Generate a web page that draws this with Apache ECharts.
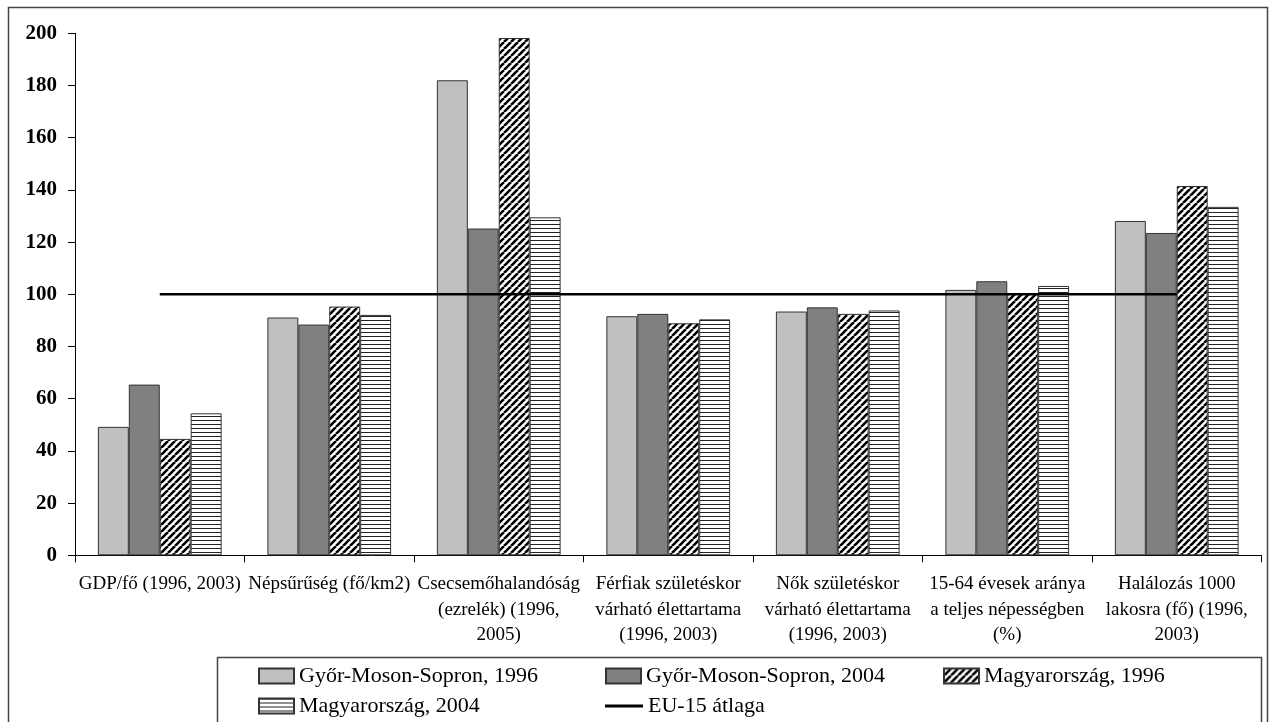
<!DOCTYPE html>
<html>
<head>
<meta charset="utf-8">
<script src="https://cdn.jsdelivr.net/npm/echarts@6/dist/echarts.min.js"></script>
<style>
html,body{margin:0;padding:0;background:#fff;}
#chart{width:1272px;height:722px;}
</style>
</head>
<body>
<div id="chart"></div>
<script>
const categories = [
  'GDP/fő (1996, 2003)',
  'Népsűrűség (fő/km2)',
  'Csecsemőhalandóság\n(ezrelék) (1996,\n2005)',
  'Férfiak születéskor\nvárható élettartama\n(1996, 2003)',
  'Nők születéskor\nvárható élettartama\n(1996, 2003)',
  '15-64 évesek aránya\na teljes népességben\n(%)',
  'Halálozás 1000\nlakosra (fő) (1996,\n2003)'
];
const seriesNames = ['Győr-Moson-Sopron, 1996', 'Győr-Moson-Sopron, 2004', 'Magyarország, 1996', 'Magyarország, 2004', 'EU-15 átlaga'];
const gyms1996 = [49.2, 91.1, 182.0, 91.6, 93.4, 101.7, 128.1];
const gyms2004 = [65.4, 88.4, 125.2, 92.5, 95.0, 105.0, 123.5];
const hu1996 = [44.6, 95.3, 198.2, 88.9, 92.5, 100.2, 141.5];
const hu2004 = [54.4, 92.1, 129.5, 90.4, 93.8, 103.2, 133.5];
const eu15 = [100, 100, 100, 100, 100, 100, 100];
const yTicks = { min: 0, max: 200, interval: 20 };

function diagPattern() {
  const s = 7;
  const c = document.createElement('canvas');
  c.width = s; c.height = s;
  const g = c.getContext('2d');
  g.fillStyle = '#fff'; g.fillRect(0, 0, s, s);
  g.strokeStyle = '#000'; g.lineWidth = 2.6;
  for (const x0 of [-s, 0, s]) {
    g.beginPath(); g.moveTo(x0, s); g.lineTo(x0 + s, 0); g.stroke();
  }
  return { image: c, repeat: 'repeat' };
}
function horizPattern() {
  const c = document.createElement('canvas');
  c.width = 4; c.height = 4;
  const g = c.getContext('2d');
  g.fillStyle = '#fff'; g.fillRect(0, 0, 4, 4);
  g.fillStyle = '#222'; g.fillRect(0, 0, 4, 1);
  return { image: c, repeat: 'repeat' };
}

const font = 'Liberation Serif';
const chart = echarts.init(document.getElementById('chart'), null, { renderer: 'canvas' });

function barSeries(name, data, color) {
  return {
    name: name, type: 'bar', data: data,
    barGap: '0%', barCategoryGap: '27%',
    itemStyle: { color: color, borderColor: '#333', borderWidth: 1 },
    emphasis: { disabled: true }, animation: false
  };
}
function legendAt(name, left, top, extra) {
  return Object.assign({
    data: [{ name: name, icon: 'rect' }], left: left, top: top, orient: 'horizontal',
    itemWidth: 35, itemHeight: 15, padding: 0,
    textStyle: { fontFamily: font, fontSize: 22, color: '#000' },
    selectedMode: false
  }, extra || {});
}

const option = {
  animation: false,
  grid: { left: 75, right: 10.5, top: 33.3, bottom: 166.7, containLabel: false },
  xAxis: {
    type: 'category', data: categories,
    axisLine: { lineStyle: { color: '#000', width: 1 } },
    axisTick: { show: true, length: 7, lineStyle: { color: '#000' } },
    axisLabel: {
      interval: 0, margin: 16, fontFamily: font, fontSize: 19, lineHeight: 25.5,
      color: '#000', align: 'center'
    }
  },
  yAxis: {
    type: 'value', min: yTicks.min, max: yTicks.max, interval: yTicks.interval,
    axisLine: { show: true, lineStyle: { color: '#000', width: 1 } },
    axisTick: { show: true, length: 7, lineStyle: { color: '#000' } },
    splitLine: { show: false },
    axisLabel: { margin: 18, fontFamily: font, fontSize: 21, fontWeight: 'bold', color: '#000' }
  },
  legend: [
    legendAt(seriesNames[0], 258, 665),
    legendAt(seriesNames[1], 605, 665),
    legendAt(seriesNames[2], 943, 665),
    legendAt(seriesNames[3], 258, 695),
    legendAt(seriesNames[4], 605, 695, { itemHeight: 3, itemWidth: 38 })
  ],
  graphic: [
    { type: 'rect', shape: { x: 8.5, y: 7.5, width: 1259, height: 730 }, style: { fill: 'none', stroke: '#444', lineWidth: 1.5 }, silent: true },
    { type: 'rect', shape: { x: 217.5, y: 657.5, width: 1044, height: 80 }, style: { fill: 'none', stroke: '#444', lineWidth: 1.5 }, silent: true }
  ],
  series: [
    barSeries(seriesNames[0], gyms1996, '#c0c0c0'),
    barSeries(seriesNames[1], gyms2004, '#808080'),
    barSeries(seriesNames[2], hu1996, diagPattern()),
    barSeries(seriesNames[3], hu2004, horizPattern()),
    {
      name: seriesNames[4], type: 'line', data: eu15, symbol: 'none', z: 5,
      lineStyle: { color: '#000', width: 2.5 }, itemStyle: { color: '#000' },
      emphasis: { disabled: true }, animation: false
    }
  ]
};
chart.setOption(option);
</script>
</body>
</html>
